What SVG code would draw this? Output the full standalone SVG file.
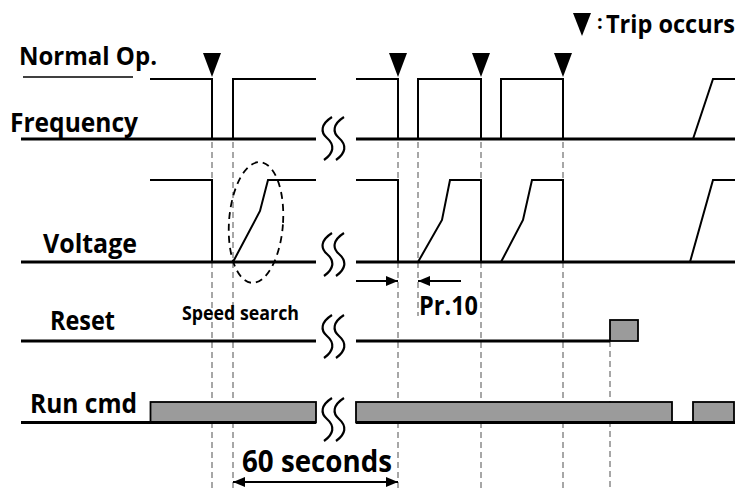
<svg xmlns="http://www.w3.org/2000/svg" xmlns:xlink="http://www.w3.org/1999/xlink" width="745" height="491" viewBox="0 0 745 491">
<style>
.sig{stroke:#000;stroke-width:2;fill:none;stroke-linejoin:miter}
.base{stroke:#000;stroke-width:3;fill:none}
.dash{stroke:#8a8a8a;stroke-width:1.5;stroke-dasharray:6 4;fill:none}
.bar{fill:#9b9b9b;stroke:#000;stroke-width:1.8}
.brk{stroke:#000;stroke-width:2.2;fill:none}
.lbl{font-family:"Open Sans","Noto Sans","Liberation Sans",sans-serif;font-weight:700;fill:#000}
.arr{stroke:#000;stroke-width:2;fill:none}
</style>
<defs>
<path id="trip" d="M-9,0 L9,0 L0,24 Z" fill="#000"/>
<g id="brkSym">
<path class="brk" d="M12,0 C1,7 0,15 7,21 C15,28 14,36 4,43"/>
<path class="brk" d="M24,0 C13,7 12,15 19,21 C27,28 26,36 16,43"/>
</g>
<marker id="ah" viewBox="0 0 12 10" refX="12" refY="5" markerWidth="12" markerHeight="10" markerUnits="userSpaceOnUse" orient="auto-start-reverse">
<path d="M0,0 L12,5 L0,10 Z" fill="#000"/>
</marker>
</defs>
<rect width="745" height="491" fill="#fff"/>

<g id="guides">
<path class="dash" d="M212,142 V491 M233,142 V491 M398,142 V491 M418,142 V316 M481,142 V491 M563,142 V491 M610,341 V491"/>
</g>

<g id="frequency">
<path class="sig" d="M150,79 H212 V139 M233,139 V79 H316"/>
<path class="sig" d="M356,79 H398 V139 M418,139 V79 H481 V139 M501,139 V79 H563 V139 M693,139 L713,79 H735"/>
<path class="base" d="M21,139 H316 M356,139 H735"/>
<use xlink:href="#brkSym" x="320" y="117"/>
</g>

<g id="voltage">
<path class="sig" d="M150,180 H212 V262 M233,262 L260,211 L268,180 H316"/>
<path class="sig" d="M356,180 H398 V262 M418,262 L442,220 L450,180 H481 V262 M501,262 L523,220 L532,180 H563 V262 M690,262 L713,180 H735"/>
<path class="base" d="M21,262 H316 M356,262 H735"/>
<use xlink:href="#brkSym" x="320" y="233"/>
<ellipse cx="256" cy="222.5" rx="27" ry="60.5" transform="rotate(4 256 222.5)" fill="none" stroke="#000" stroke-width="1.8" stroke-dasharray="7 5"/>
</g>

<g id="reset">
<rect class="bar" x="610" y="320" width="28" height="21"/>
<path class="base" d="M21,341 H316 M356,341 H610"/>
<use xlink:href="#brkSym" x="320" y="315"/>
</g>

<g id="runcmd">
<rect class="bar" x="150.5" y="402" width="165.5" height="20.5"/>
<rect class="bar" x="356" y="402" width="316" height="20.5"/>
<rect class="bar" x="693" y="402" width="41" height="20.5"/>
<path class="base" d="M21,422.5 H316 M356,422.5 H735"/>
<use xlink:href="#brkSym" x="320" y="398"/>
</g>

<g id="trips">
<use xlink:href="#trip" x="212" y="53"/>
<use xlink:href="#trip" x="398" y="53"/>
<use xlink:href="#trip" x="481" y="53"/>
<use xlink:href="#trip" x="563" y="53"/>
</g>

<g id="connectors">
<path class="arr" d="M356,281 H398" marker-end="url(#ah)"/>
<path class="arr" d="M461,281 H418" marker-end="url(#ah)"/>
<path class="arr" d="M233,482 H398" marker-start="url(#ah)" marker-end="url(#ah)"/>
</g>

<g id="labels">
<path d="M23,77 H133" stroke="#000" stroke-width="1.5"/>
<text class="lbl" x="19" y="65" font-size="25" textLength="138" lengthAdjust="spacingAndGlyphs">Normal Op.</text>
<text class="lbl" x="10" y="132" font-size="26" textLength="128" lengthAdjust="spacingAndGlyphs">Frequency</text>
<text class="lbl" x="43" y="253" font-size="27" textLength="94" lengthAdjust="spacingAndGlyphs">Voltage</text>
<text class="lbl" x="50" y="330" font-size="26" textLength="65" lengthAdjust="spacingAndGlyphs">Reset</text>
<text class="lbl" x="30" y="413" font-size="26" textLength="107" lengthAdjust="spacingAndGlyphs">Run cmd</text>
<text class="lbl" x="182" y="320" font-size="19" textLength="117" lengthAdjust="spacingAndGlyphs">Speed search</text>
<text class="lbl" x="419" y="315" font-size="26" textLength="59" lengthAdjust="spacingAndGlyphs">Pr.10</text>
<text class="lbl" x="242" y="472" font-size="30" textLength="150" lengthAdjust="spacingAndGlyphs">60 seconds</text>
</g>

<g id="legend">
<path d="M573,13 L591,13 L582,36 Z" fill="#000"/>
<text class="lbl" font-size="25"><tspan x="597" y="29" font-size="20">:</tspan><tspan x="606" y="33" textLength="129" lengthAdjust="spacingAndGlyphs">Trip occurs</tspan></text>
</g>
</svg>
